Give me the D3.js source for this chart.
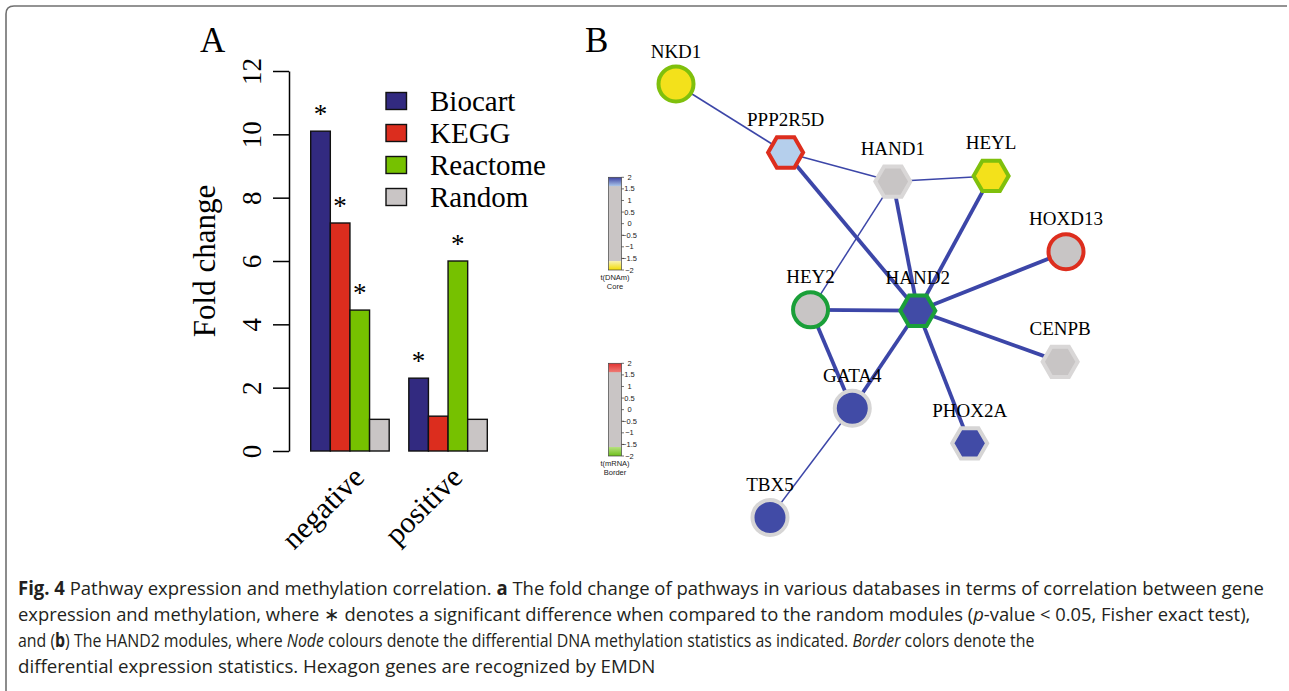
<!DOCTYPE html>
<html>
<head>
<meta charset="utf-8">
<script src="https://cdn.jsdelivr.net/npm/d3@7"></script>
<style>
  body { margin: 0; background: #fff; }
  .serif { font-family: "Liberation Serif", "Times New Roman", serif; }
  .sans { font-family: "Liberation Sans", Arial, sans-serif; }
  .caption { font-family: "Open Sans", sans-serif; fill: #231f20; }
</style>
</head>
<body>
<div id="fig"></div>
<script>
// ---------------- panel A data ----------------
var groups = ["negative", "positive"];
var series = ["Biocart", "KEGG", "Reactome", "Random"];
var negValues = [10.1, 7.2, 4.45, 1];
var posValues = [2.3, 1.1, 6.0, 1];
var negSignif = [true, true, true, false];
var posSignif = [true, false, true, false];
var yTicks = [0, 2, 4, 6, 8, 10, 12];

// ---------------- panel B data ----------------
var genes = ["NKD1", "PPP2R5D", "HAND1", "HEYL", "HOXD13", "HEY2", "HAND2", "CENPB", "GATA4", "PHOX2A", "TBX5"];
var geneEMDN = [false, true, true, true, false, false, true, true, false, true, false];   // hexagon = recognized by EMDN
var coreLevel = ["hypo", "hyperMild", "none", "hypo", "none", "none", "hyper", "none", "hyper", "hyper", "hyper"];
var borderLevel = ["downMild", "up", "none", "downMild", "up", "down", "down", "none", "noneDark", "noneDark", "noneDark"];
// layout from the network view (0..1 units)
var layoutX = [0.000, 0.281, 0.556, 0.808, 1.000, 0.345, 0.620, 0.985, 0.452, 0.753, 0.241];
var layoutY = [0.000, 0.158, 0.225, 0.212, 0.387, 0.521, 0.523, 0.641, 0.748, 0.829, 1.000];

var edgeFrom = ["NKD1", "PPP2R5D", "HAND1", "PPP2R5D", "HAND1", "HAND1", "HEYL", "HOXD13", "HEY2", "CENPB", "HEY2", "GATA4", "PHOX2A", "GATA4"];
var edgeTo   = ["PPP2R5D", "HAND1", "HEYL", "HAND2", "HAND2", "HEY2", "HAND2", "HAND2", "HAND2", "HAND2", "GATA4", "HAND2", "HAND2", "TBX5"];
var edgeStrong = [false, false, false, true, true, false, true, true, true, true, true, true, true, false];

var colorbarTicks = [2, 1.5, 1, 0.5, 0, -0.5, -1, -1.5, -2];

// ---------------- caption ----------------
var captionLines = [
    [["Fig. 4", "b"], [" Pathway expression and methylation correlation. ", ""], ["a", "b"], [" The fold change of pathways in various databases in terms of correlation between gene", ""]],
    [["expression and methylation, where \u2217 denotes a significant difference when compared to the random modules (", ""], ["p", "i"], ["-value < 0.05, Fisher exact test),", ""]],
    [["and (", ""], ["b", "b"], [") The HAND2 modules, where ", ""], ["Node", "i"], [" colours denote the differential DNA methylation statistics as indicated. ", ""], ["Border", "i"], [" colors denote the", ""]],
    [["differential expression statistics. Hexagon genes are recognized by EMDN", ""]]
];
var captionWidths = [1246, 1233, 1017, 638];

var svg = d3.select("#fig").append("svg")
    .attr("width", 1289)
    .attr("height", 691);

// figure frame (left + top, rounded corner)
svg.append("path")
    .attr("d", "M6,691 L6,14 Q6,6 14,6 L1287,6")
    .attr("fill", "none")
    .attr("stroke", "#707070")
    .attr("stroke-width", 1.6);

// ============ Panel A: grouped bars ============
var barColor = d3.scaleOrdinal().domain(series).range(["#322a80", "#dc2d1e", "#76c100", "#c9c5c5"]);

var x0 = d3.scaleBand().domain(groups).range([310.7, 487.3]).paddingInner(0.2);
var x1 = d3.scaleBand().domain(series).range([0, x0.bandwidth()]);
var y = d3.scaleLinear().domain([0, 12]).range([451, 71]);

var barData = groups.map(function(g, gi) {
    var vals = gi === 0 ? negValues : posValues;
    var sig = gi === 0 ? negSignif : posSignif;
    return series.map(function(s, si) {
        return {group: g, series: s, value: vals[si], sig: sig[si]};
    });
});

var gA = svg.append("g").attr("class", "panelA");

gA.append("text").attr("class", "serif")
    .attr("x", 200).attr("y", 52)
    .style("font-size", "35px")
    .text("A");

var yAxis = d3.axisLeft(y).tickValues(yTicks).tickSize(16).tickSizeOuter(0);
var axG = gA.append("g")
    .attr("transform", "translate(289,0)")
    .call(yAxis);
axG.select(".domain").attr("stroke", "#000").attr("stroke-width", 1.5);
axG.selectAll(".tick line").attr("stroke", "#000").attr("stroke-width", 1.5);
axG.selectAll(".tick text")
    .attr("class", "serif")
    .attr("x", null).attr("dy", null)
    .attr("transform", "translate(-28,0) rotate(-90)")
    .attr("text-anchor", "middle")
    .attr("fill", "#000")
    .style("font-size", "27px")
    .style("font-family", "'Liberation Serif', serif");

gA.append("text").attr("class", "serif")
    .attr("transform", "translate(215," + (y(6)) + ") rotate(-90)")
    .attr("text-anchor", "middle")
    .style("font-size", "31px")
    .text("Fold change");

var grp = gA.selectAll(".grp")
    .data(barData)
    .enter().append("g")
    .attr("class", "grp")
    .attr("transform", function(d) { return "translate(" + x0(d[0].group) + ",0)"; });

grp.selectAll("rect")
    .data(function(d) { return d; })
    .enter().append("rect")
    .attr("x", function(d) { return x1(d.series); })
    .attr("width", x1.bandwidth())
    .attr("y", function(d) { return y(d.value); })
    .attr("height", function(d) { return y(0) - y(d.value); })
    .attr("fill", function(d) { return barColor(d.series); })
    .attr("stroke", "#111")
    .attr("stroke-width", 1.4);

grp.selectAll(".star")
    .data(function(d) { return d.filter(function(e) { return e.sig; }); })
    .enter().append("text")
    .attr("class", "serif star")
    .attr("x", function(d) { return x1(d.series) + x1.bandwidth() / 2; })
    .attr("y", function(d) { return y(d.value) - 8; })
    .attr("text-anchor", "middle")
    .style("font-size", "27px")
    .text("*");

// category labels at 45 degrees
gA.selectAll(".cat")
    .data(groups)
    .enter().append("text")
    .attr("class", "serif cat")
    .attr("transform", function(d) {
        return "translate(" + (x0(d) + x0.bandwidth() / 2 + 16) + ",479) rotate(-45)";
    })
    .attr("text-anchor", "end")
    .style("font-size", "30px")
    .text(function(d) { return d; });

// legend
var leg = gA.selectAll(".leg")
    .data(series)
    .enter().append("g")
    .attr("class", "leg")
    .attr("transform", function(d, i) { return "translate(386," + (101 + i * 32) + ")"; });
leg.append("rect")
    .attr("x", 0).attr("y", -8.5)
    .attr("width", 20.5).attr("height", 17)
    .attr("fill", function(d) { return barColor(d); })
    .attr("stroke", "#111")
    .attr("stroke-width", 1.4);
leg.append("text").attr("class", "serif")
    .attr("x", 44).attr("y", 10)
    .style("font-size", "29px")
    .text(function(d) { return d; });

// ============ Panel B: network ============
var gB = svg.append("g").attr("class", "panelB");

gB.append("text").attr("class", "serif")
    .attr("x", 585).attr("y", 52)
    .style("font-size", "35px")
    .text("B");

// colour bars
var cbY = d3.scaleLinear().domain([2, -2]);
var defs = svg.append("defs");

function colorbar(id, top, bottom, stops, title1, title2) {
    cbY.range([top, bottom]);
    var grad = defs.append("linearGradient")
        .attr("id", id)
        .attr("x1", 0).attr("y1", 0).attr("x2", 0).attr("y2", 1);
    grad.selectAll("stop")
        .data(stops)
        .enter().append("stop")
        .attr("offset", function(d) { return (cbY(d[0]) - top) / (bottom - top); })
        .attr("stop-color", function(d) { return d[1]; });

    var g = gB.append("g");
    g.append("rect")
        .attr("x", 608.5).attr("y", top)
        .attr("width", 13).attr("height", bottom - top)
        .attr("fill", "url(#" + id + ")")
        .attr("stroke", "#444")
        .attr("stroke-width", 0.7);
    g.selectAll(".cbt")
        .data(colorbarTicks)
        .enter().append("line")
        .attr("x1", 621.5).attr("x2", 624)
        .attr("y1", function(d) { return cbY(d); })
        .attr("y2", function(d) { return cbY(d); })
        .attr("stroke", "#333")
        .attr("stroke-width", 0.7);
    g.selectAll(".cbl")
        .data(colorbarTicks)
        .enter().append("text")
        .attr("class", "sans")
        .attr("x", 629.5)
        .attr("y", function(d) { return cbY(d) + 2.5; })
        .attr("text-anchor", "middle")
        .style("font-size", "7.5px")
        .attr("fill", "#222")
        .text(function(d) { return d < 0 ? "\u2212" + Math.abs(d) : d; });
    g.append("text").attr("class", "sans")
        .attr("x", 615).attr("y", bottom + 10)
        .attr("text-anchor", "middle")
        .style("font-size", "7.5px")
        .attr("fill", "#222")
        .text(title1);
    g.append("text").attr("class", "sans")
        .attr("x", 615).attr("y", bottom + 19)
        .attr("text-anchor", "middle")
        .style("font-size", "7.5px")
        .attr("fill", "#222")
        .text(title2);
}

colorbar("cbCore", 177.3, 270,
    [[2, "#3a3f9f"], [1.62, "#aac6ea"], [1.6, "#c9c5c5"], [-1.6, "#c9c5c5"], [-1.62, "#f8f2b0"], [-2, "#f2dc00"]],
    "t(DNAm)", "Core");
colorbar("cbBorder", 363.3, 456,
    [[2, "#e23030"], [1.62, "#ee7a74"], [1.6, "#c9c5c5"], [-1.6, "#c9c5c5"], [-1.62, "#b6e07e"], [-2, "#6cbf1a"]],
    "t(mRNA)", "Border");

var nx = d3.scaleLinear().domain([0, 1]).range([676, 1066]);
var ny = d3.scaleLinear().domain([0, 1]).range([84, 517.5]);

var coreColor = d3.scaleOrdinal()
    .domain(["hyper", "hyperMild", "none", "hypo"])
    .range(["#414ba6", "#b5cfec", "#c8c5c5", "#f3e11b"]);
var borderColor = d3.scaleOrdinal()
    .domain(["up", "none", "noneDark", "down", "downMild"])
    .range(["#dd2e1e", "#d9d7d7", "#d6d5d5", "#1a9f39", "#7fc00c"]);
var edgeWidth = d3.scaleOrdinal().domain([true, false]).range([3.8, 1.5]);

var nodes = genes.map(function(g, i) {
    return {name: g, hex: geneEMDN[i], core: coreLevel[i], border: borderLevel[i],
            x: nx(layoutX[i]), y: ny(layoutY[i])};
});
var byName = {};
nodes.forEach(function(n) { byName[n.name] = n; });
var edges = edgeFrom.map(function(f, i) {
    return {source: byName[f], target: byName[edgeTo[i]], strong: edgeStrong[i]};
});

gB.append("g").selectAll("line")
    .data(edges)
    .enter().append("line")
    .attr("x1", function(d) { return d.source.x; })
    .attr("y1", function(d) { return d.source.y; })
    .attr("x2", function(d) { return d.target.x; })
    .attr("y2", function(d) { return d.target.y; })
    .attr("stroke", "#3c46a8")
    .attr("stroke-width", function(d) { return edgeWidth(d.strong); });

var hexPath = function(r) {
    var pts = d3.range(6).map(function(k) {
        var a = k * Math.PI / 3;
        return [r * Math.cos(a), r * Math.sin(a)];
    });
    return "M" + pts.join("L") + "Z";
};

var node = gB.append("g").selectAll(".node")
    .data(nodes)
    .enter().append("g")
    .attr("class", "node")
    .attr("transform", function(d) { return "translate(" + d.x + "," + d.y + ")"; });

node.filter(function(d) { return !d.hex; }).append("circle")
    .attr("r", 17.5);
node.filter(function(d) { return d.hex; }).append("path")
    .attr("d", hexPath(17.5));
node.selectAll("circle, path")
    .attr("fill", function(d) { return coreColor(d.core); })
    .attr("stroke", function(d) { return borderColor(d.border); })
    .attr("stroke-width", 4);

node.append("text").attr("class", "serif")
    .attr("y", -26.5)
    .attr("text-anchor", "middle")
    .style("font-size", "19px")
    .text(function(d) { return d.name; });

// ============ caption ============
// the journal font is condensed: draw each line, then squeeze it to its width
var cap = svg.append("g").attr("class", "caption");
captionLines.forEach(function(line, i) {
    var t = cap.append("text")
        .attr("x", 0)
        .attr("y", 0)
        .style("font-size", "19px");
    line.forEach(function(seg) {
        t.append("tspan")
            .style("font-weight", seg[1] === "b" ? "bold" : null)
            .style("font-style", seg[1] === "i" ? "italic" : null)
            .text(seg[0]);
    });
    var natural = t.node().getComputedTextLength();
    t.attr("transform", "translate(18," + (595 + i * 26) + ") scale(" + (captionWidths[i] / natural) + ",1)");
});
</script>
</body>
</html>
